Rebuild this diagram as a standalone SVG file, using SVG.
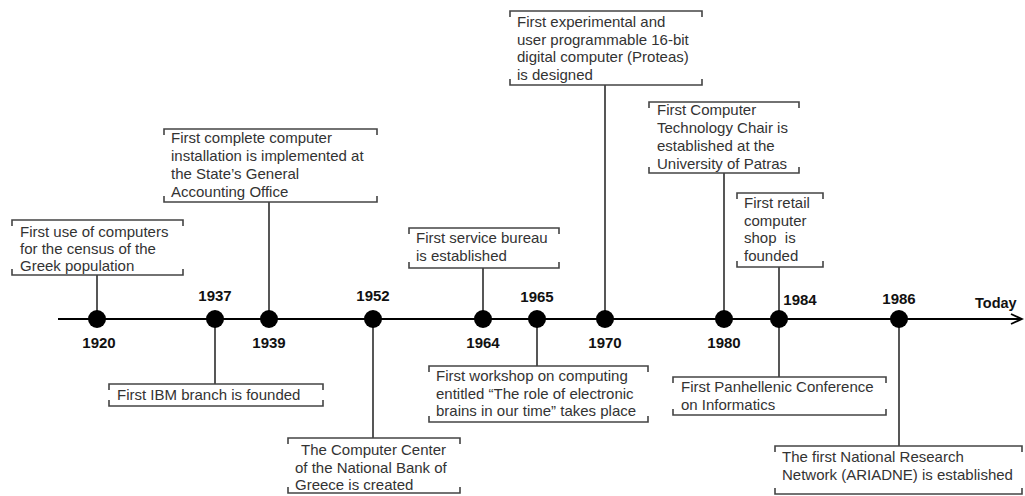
<svg xmlns="http://www.w3.org/2000/svg" width="1025" height="496" viewBox="0 0 1025 496">
<defs>
<style>
.box{fill:none;stroke:#444;stroke-width:1.6}
.conn{stroke:#444;stroke-width:1.8;fill:none}
.t{font-family:"Liberation Sans",Arial,sans-serif;font-size:15px;fill:#333}
.yr{font-family:"Liberation Sans",Arial,sans-serif;font-size:15px;font-weight:bold;fill:#111;text-anchor:middle}
.dot{fill:#000}
</style>
<marker id="arr" markerWidth="14" markerHeight="12" refX="12" refY="6" orient="auto" markerUnits="userSpaceOnUse">
<path d="M1,1 L12,6 L1,11" fill="none" stroke="#000" stroke-width="1.8"/>
</marker>
</defs>
<rect width="1025" height="496" fill="#fff"/>

<g id="timeline">
<line x1="58" y1="319" x2="1022" y2="319" stroke="#000" stroke-width="2" marker-end="url(#arr)"/>
<text x="975" y="308" class="yr" style="text-anchor:start;font-size:14.5px">Today</text>
</g>

<g id="connectors">
<line class="conn" x1="97" y1="275" x2="97" y2="319"/>
<line class="conn" x1="215" y1="319" x2="215" y2="384"/>
<line class="conn" x1="269" y1="202" x2="269" y2="319"/>
<line class="conn" x1="373" y1="319" x2="373" y2="438"/>
<line class="conn" x1="483" y1="268" x2="483" y2="319"/>
<line class="conn" x1="537" y1="319" x2="537" y2="366"/>
<line class="conn" x1="605" y1="85" x2="605" y2="319"/>
<line class="conn" x1="724" y1="173" x2="724" y2="319"/>
<line class="conn" x1="779" y1="267" x2="779" y2="377"/>
<line class="conn" x1="899" y1="319" x2="899" y2="446"/>
</g>

<g id="n1920">
<circle class="dot" cx="97" cy="319" r="9"/>
<text class="yr" x="99" y="348">1920</text>
<path class="box" d="M12,226 V220 H183 V226 M12,269 V275 H183 V269"/>
<text class="t" x="20" y="237">First use of computers</text>
<text class="t" x="20" y="254">for the census of the</text>
<text class="t" x="20" y="271">Greek population</text>
</g>

<g id="n1937">
<circle class="dot" cx="215" cy="319" r="9"/>
<text class="yr" x="215" y="301">1937</text>
<path class="box" d="M109,390 V384 H323 V390 M109,400 V406 H323 V400"/>
<text class="t" x="117" y="400">First IBM branch is founded</text>
</g>

<g id="n1939">
<circle class="dot" cx="269" cy="319" r="9"/>
<text class="yr" x="269" y="348">1939</text>
<path class="box" d="M164,135 V129 H377 V135 M164,196 V202 H377 V196"/>
<text class="t" x="171" y="143">First complete computer</text>
<text class="t" x="171" y="161">installation is implemented at</text>
<text class="t" x="171" y="179">the State’s General</text>
<text class="t" x="171" y="197">Accounting Office</text>
</g>

<g id="n1952">
<circle class="dot" cx="373" cy="319" r="9"/>
<text class="yr" x="373" y="301">1952</text>
<path class="box" d="M288,444 V438 H460 V444 M288,487 V493 H460 V487"/>
<text class="t" x="301" y="455">The Computer Center</text>
<text class="t" x="295" y="473">of the National Bank of</text>
<text class="t" x="295" y="490">Greece is created</text>
</g>

<g id="n1964">
<circle class="dot" cx="483" cy="319" r="9"/>
<text class="yr" x="483" y="348">1964</text>
<path class="box" d="M409,234 V228 H559 V234 M409,262 V268 H559 V262"/>
<text class="t" x="416" y="243">First service bureau</text>
<text class="t" x="416" y="261">is established</text>
</g>

<g id="n1965">
<circle class="dot" cx="537" cy="319" r="9"/>
<text class="yr" x="537" y="302">1965</text>
<path class="box" d="M429,372 V366 H648 V372 M429,416 V422 H648 V416"/>
<text class="t" x="436" y="381">First workshop on computing</text>
<text class="t" x="436" y="399">entitled “The role of electronic</text>
<text class="t" x="436" y="416">brains in our time” takes place</text>
</g>

<g id="n1970">
<circle class="dot" cx="605" cy="319" r="9"/>
<text class="yr" x="605" y="348">1970</text>
<path class="box" d="M510,17 V11 H702 V17 M510,79 V85 H702 V79"/>
<text class="t" x="517" y="27">First experimental and</text>
<text class="t" x="517" y="45">user programmable 16-bit</text>
<text class="t" x="517" y="62">digital computer (Proteas)</text>
<text class="t" x="517" y="80">is designed</text>
</g>

<g id="n1980">
<circle class="dot" cx="724" cy="319" r="9"/>
<text class="yr" x="724" y="348">1980</text>
<path class="box" d="M649,108 V102 H799 V108 M649,167 V173 H799 V167"/>
<text class="t" x="657" y="115">First Computer</text>
<text class="t" x="657" y="133">Technology Chair is</text>
<text class="t" x="657" y="151">established at the</text>
<text class="t" x="657" y="169">University of Patras</text>
</g>

<g id="n1984">
<circle class="dot" cx="779" cy="319" r="9"/>
<text class="yr" x="800" y="305">1984</text>
<path class="box" d="M737,199 V193 H823 V199 M737,261 V267 H823 V261"/>
<text class="t" x="744" y="208">First retail</text>
<text class="t" x="744" y="226">computer</text>
<text class="t" x="744" y="243" xml:space="preserve">shop  is</text>
<text class="t" x="744" y="261">founded</text>
<path class="box" d="M673,383 V377 H886 V383 M673,409 V415 H886 V409"/>
<text class="t" x="681" y="392">First Panhellenic Conference</text>
<text class="t" x="681" y="410">on Informatics</text>
</g>

<g id="n1986">
<circle class="dot" cx="899" cy="319" r="9"/>
<text class="yr" x="899" y="304">1986</text>
<path class="box" d="M775,452 V446 H1022 V452 M775,488 V494 H1022 V488"/>
<text class="t" x="782" y="462">The first National Research</text>
<text class="t" x="782" y="480">Network (ARIADNE) is established</text>
</g>
</svg>
